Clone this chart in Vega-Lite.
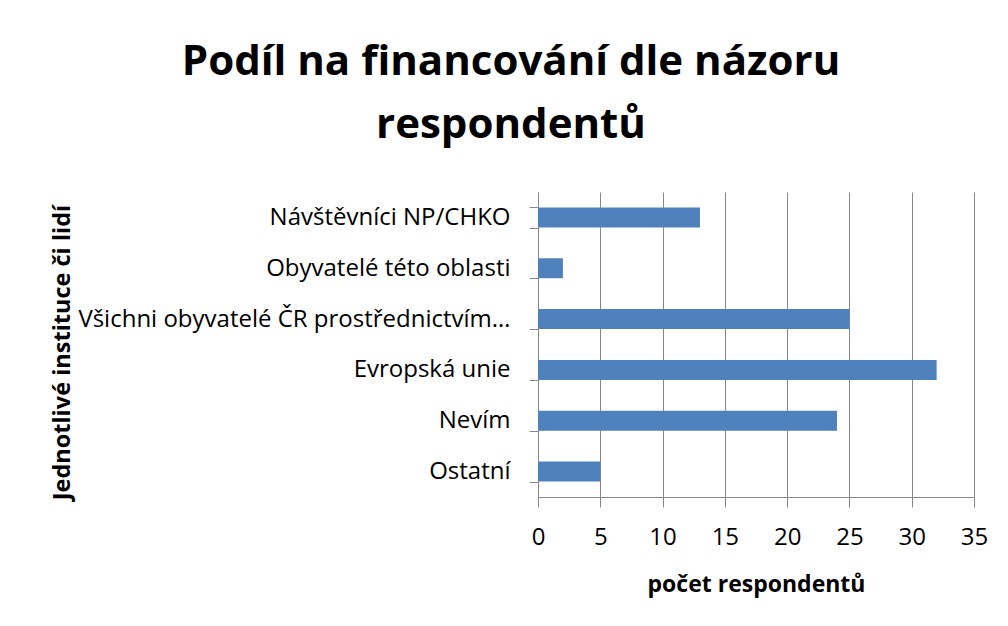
{
  "$schema": "https://vega.github.io/schema/vega-lite/v6.json",
  "width": 436,
  "height": 305,
  "autosize": "none",
  "padding": {"left": 538, "top": 192, "right": 34, "bottom": 129},
  "background": "white",
  "config": {
    "font": "Open Sans",
    "view": {"stroke": null}
  },
  "title": {
    "text": ["Podíl na financování dle názoru", "respondentů"],
    "font": "Open Sans",
    "fontSize": 42,
    "fontWeight": "bold",
    "color": "black",
    "anchor": "middle",
    "frame": "group",
    "dx": -245,
    "lineHeight": 63,
    "offset": 33
  },
  "data": {
    "values": [
      {"kategorie": "Návštěvníci NP/CHKO", "pocet": 13},
      {"kategorie": "Obyvatelé této oblasti", "pocet": 2},
      {"kategorie": "Všichni obyvatelé ČR prostřednictvím…", "pocet": 25},
      {"kategorie": "Evropská unie", "pocet": 32},
      {"kategorie": "Nevím", "pocet": 24},
      {"kategorie": "Ostatní", "pocet": 5}
    ]
  },
  "mark": {"type": "bar", "color": "#4F81BD", "size": 20},
  "encoding": {
    "y": {
      "field": "kategorie",
      "type": "nominal",
      "sort": null,
      "scale": {"paddingInner": 0.6, "paddingOuter": 0.3},
      "axis": {
        "title": "Jednotlivé instituce či lidí",
        "titleFontSize": 23.5,
        "titleFontWeight": "bold",
        "titleColor": "black",
        "titleX": -476,
        "titleY": 160,
        "titleBaseline": "middle",
        "labelFontSize": 24,
        "labelColor": "black",
        "labelPadding": 19,
        "tickSize": 9,
        "tickBand": "extent",
        "tickColor": "#888888",
        "domainColor": "#888888",
        "grid": false,
        "labelLimit": 500
      }
    },
    "x": {
      "field": "pocet",
      "type": "quantitative",
      "scale": {"domain": [0, 35], "nice": false},
      "axis": {
        "title": "počet respondentů",
        "titleFontSize": 23,
        "titleFontWeight": "bold",
        "titleColor": "black",
        "titlePadding": 24,
        "values": [0, 5, 10, 15, 20, 25, 30, 35],
        "labelFontSize": 24,
        "labelColor": "black",
        "labelPadding": 18,
        "labelFlush": false,
        "labelOverlap": false,
        "tickSize": 10,
        "tickColor": "#888888",
        "domainColor": "#888888",
        "grid": true,
        "gridColor": "#888888",
        "gridWidth": 1
      }
    }
  }
}
